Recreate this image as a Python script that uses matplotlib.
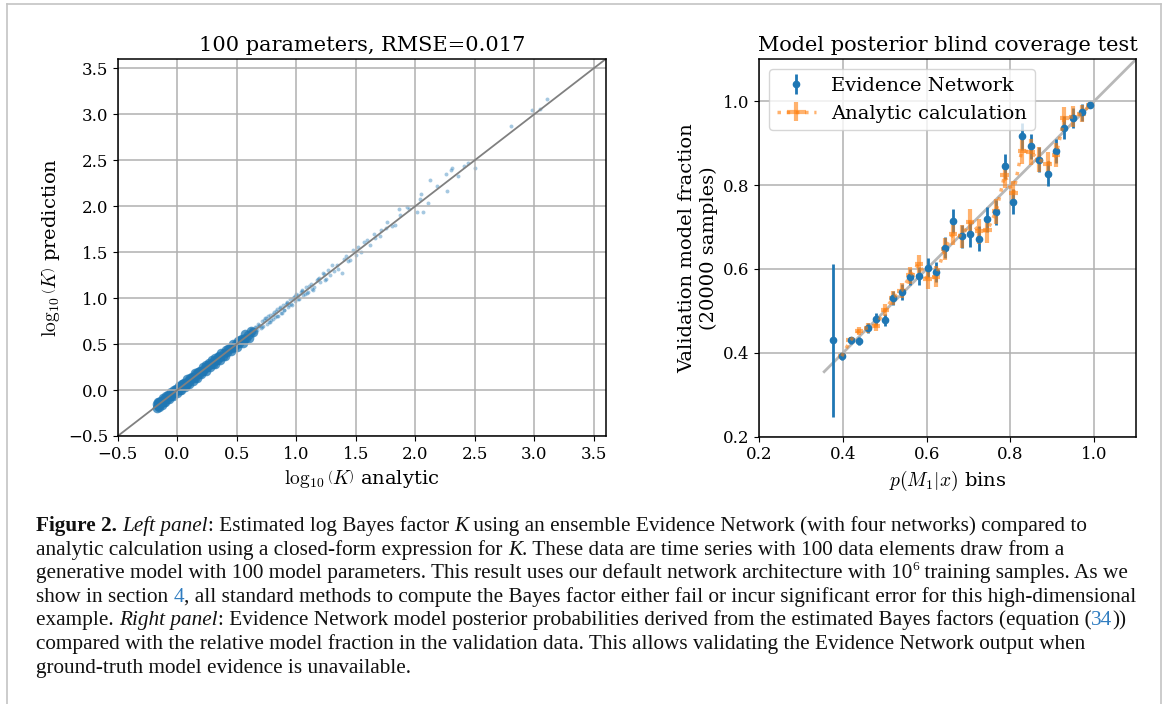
import matplotlib
matplotlib.use("Agg")
import matplotlib.pyplot as plt
from matplotlib.lines import Line2D

plt.rcParams['font.family'] = 'DejaVu Serif'
plt.rcParams['mathtext.fontset'] = 'cm'
plt.rcParams['font.size'] = 12

# ---------------- data: left panel ----------------
dense_x = [-0.170, -0.170, -0.165, -0.160, -0.160, -0.155, -0.150, -0.150, -0.145, -0.140,
           -0.135, -0.130, -0.125, -0.120, -0.115, -0.110, -0.100, -0.095, -0.090, -0.080,
           -0.075, -0.070, -0.060, -0.055, -0.050, -0.040, -0.035, -0.030, -0.020, -0.015,
           -0.010, 0.000, 0.005, 0.010, 0.020, 0.025, 0.030, 0.040, 0.045, 0.050,
           0.060, 0.065, 0.070, 0.080, 0.085, 0.090, 0.100, 0.105, 0.110, 0.120,
           0.125, 0.130, 0.140, 0.145, 0.150, 0.160, 0.165, 0.170, 0.180, 0.185,
           0.190, 0.200, 0.210, 0.215, 0.220, 0.230, 0.240, 0.245, 0.250, 0.260,
           0.270, 0.275, 0.280, 0.290, 0.300, 0.310, 0.315, 0.320, 0.330, 0.340,
           0.350, 0.355, 0.360, 0.370, 0.380, 0.390, 0.400, 0.410, 0.420, 0.430,
           0.440, 0.450, 0.460, 0.470, 0.480, 0.490, 0.500, 0.510, 0.520, 0.530,
           0.540, 0.550, 0.560, 0.570, 0.580, 0.590, 0.600, 0.620, 0.640]
dense_y = [-0.150, -0.200, -0.165, -0.125, -0.175, -0.145, -0.185, -0.125, -0.150, -0.125,
           -0.115, -0.160, -0.125, -0.085, -0.130, -0.100, -0.135, -0.070, -0.095, -0.065,
           -0.055, -0.100, -0.060, -0.020, -0.065, -0.030, -0.070, -0.005, -0.025, 0.000,
           0.010, -0.030, 0.005, 0.045, 0.005, 0.035, -0.005, 0.065, 0.040, 0.065,
           0.080, 0.035, 0.070, 0.115, 0.070, 0.100, 0.065, 0.130, 0.105, 0.135,
           0.145, 0.100, 0.140, 0.180, 0.135, 0.170, 0.130, 0.195, 0.175, 0.200,
           0.210, 0.170, 0.210, 0.250, 0.205, 0.240, 0.205, 0.270, 0.245, 0.275,
           0.290, 0.245, 0.280, 0.325, 0.285, 0.320, 0.280, 0.345, 0.325, 0.355,
           0.370, 0.325, 0.360, 0.405, 0.365, 0.400, 0.365, 0.435, 0.415, 0.445,
           0.460, 0.420, 0.460, 0.505, 0.465, 0.500, 0.465, 0.535, 0.515, 0.545,
           0.560, 0.510, 0.560, 0.605, 0.565, 0.600, 0.565, 0.645, 0.635]

sparse_x = [0.62, 0.64, 0.66, 0.67, 0.68, 0.70, 0.71, 0.72, 0.73, 0.75,
            0.76, 0.77, 0.78, 0.80, 0.81, 0.82, 0.84, 0.85, 0.86, 0.88,
            0.89, 0.90, 0.92, 0.93, 0.95, 0.96, 0.98, 0.99, 1.00, 1.02,
            1.04, 1.06, 1.08, 1.10, 1.12, 1.15, 1.17, 1.20, 1.22, 1.25,
            1.27, 1.30, 1.32, 1.34, 1.38, 1.40, 1.42, 1.45, 1.48, 1.50,
            1.52, 1.54, 1.59, 1.62, 1.65, 1.66, 1.70, 1.75, 1.76, 1.80,
            1.86, 1.87, 1.93, 2.01, 2.05, 2.06, 2.11, 2.12, 2.26, 2.27,
            2.30, 2.31, 2.41, 2.50, 2.80, 2.98, 3.05, 3.11,
            0.63, 0.65, 0.69, 0.74, 0.79, 0.83, 0.87, 0.91, 0.94, 0.97,
            1.01, 1.05, 1.09, 1.13, 1.18, 1.23, 1.28, 1.35, 1.43, 1.57,
            0.61, 0.655, 0.685, 0.715, 0.745, 0.775, 0.805, 0.835, 0.865, 0.895,
            0.925, 0.955, 0.985, 1.015, 1.045, 1.075, 1.105, 1.14, 1.19, 1.24,
            1.71, 1.83, 1.95, 2.04, 2.18, 2.36, 2.44]
sparse_y = [0.66, 0.60, 0.69, 0.65, 0.72, 0.67, 0.75, 0.70, 0.76, 0.72,
            0.80, 0.74, 0.82, 0.77, 0.85, 0.79, 0.88, 0.81, 0.90, 0.84,
            0.93, 0.87, 0.95, 0.90, 0.99, 0.93, 1.01, 0.97, 1.04, 0.99,
            1.07, 1.03, 1.12, 1.07, 1.15, 1.12, 1.20, 1.17, 1.27, 1.21,
            1.30, 1.36, 1.29, 1.36, 1.27, 1.43, 1.46, 1.41, 1.52, 1.47,
            1.56, 1.50, 1.63, 1.58, 1.70, 1.65, 1.68, 1.76, 1.83, 1.78,
            1.97, 1.90, 1.99, 1.94, 2.13, 1.94, 2.03, 2.28, 2.35, 2.16,
            2.39, 2.42, 2.44, 2.41, 2.87, 3.04, 3.06, 3.17,
            0.61, 0.68, 0.71, 0.78, 0.76, 0.86, 0.84, 0.94, 0.92, 1.00,
            1.03, 1.09, 1.06, 1.10, 1.21, 1.26, 1.25, 1.32, 1.40, 1.61,
            0.64, 0.63, 0.70, 0.69, 0.78, 0.74, 0.83, 0.81, 0.89, 0.87,
            0.96, 0.94, 1.02, 0.99, 1.08, 1.04, 1.13, 1.09, 1.22, 1.20,
            1.74, 1.80, 1.97, 2.08, 2.22, 2.33, 2.47]

left_diag = [-0.5, 3.6]
left_ticks = [-0.5, 0.0, 0.5, 1.0, 1.5, 2.0, 2.5, 3.0, 3.5]

# ---------------- data: right panel ----------------
net_x = [0.376, 0.397, 0.418, 0.438, 0.459, 0.479, 0.500, 0.520, 0.540, 0.561,
         0.581, 0.602, 0.622, 0.643, 0.663, 0.684, 0.704, 0.725, 0.745, 0.766,
         0.786, 0.807, 0.827, 0.848, 0.868, 0.889, 0.909, 0.929, 0.950, 0.970, 0.990]
net_y = [0.430, 0.392, 0.430, 0.428, 0.460, 0.480, 0.478, 0.531, 0.545, 0.581,
         0.583, 0.603, 0.593, 0.651, 0.714, 0.678, 0.683, 0.672, 0.718, 0.735,
         0.845, 0.760, 0.916, 0.893, 0.861, 0.827, 0.881, 0.937, 0.960, 0.974, 0.991]
net_err = [0.183, 0.008, 0.008, 0.010, 0.012, 0.014, 0.015, 0.017, 0.018, 0.020,
           0.022, 0.022, 0.024, 0.026, 0.028, 0.028, 0.030, 0.030, 0.030, 0.030,
           0.030, 0.030, 0.032, 0.030, 0.030, 0.030, 0.028, 0.027, 0.025, 0.020, 0.008]

ana_x = [0.397, 0.418, 0.438, 0.459, 0.479, 0.500, 0.520, 0.540, 0.561,
         0.581, 0.602, 0.622, 0.643, 0.663, 0.684, 0.704, 0.725, 0.745, 0.766,
         0.786, 0.807, 0.827, 0.848, 0.868, 0.889, 0.909, 0.929, 0.950, 0.970, 0.990]
ana_y = [0.392, 0.430, 0.452, 0.460, 0.465, 0.502, 0.531, 0.548, 0.585,
         0.612, 0.575, 0.582, 0.648, 0.684, 0.678, 0.712, 0.690, 0.692, 0.738,
         0.823, 0.780, 0.882, 0.879, 0.861, 0.850, 0.872, 0.960, 0.963, 0.970, 0.991]
ana_err = [0.008, 0.008, 0.010, 0.012, 0.014, 0.015, 0.017, 0.018, 0.020,
           0.022, 0.022, 0.024, 0.026, 0.028, 0.028, 0.030, 0.030, 0.030, 0.030,
           0.030, 0.030, 0.032, 0.030, 0.030, 0.030, 0.028, 0.027, 0.025, 0.020, 0.008]
ana_xerr = 0.010

right_diag = [0.355, 1.1]
right_ticks = [0.2, 0.4, 0.6, 0.8, 1.0]

left_title = '100 parameters, RMSE=0.017'
right_title = 'Model posterior blind coverage test'

caption = [
    [('b', 'Figure 2.'), ('r', ' '), ('i', 'Left panel'), ('r', ': Estimated log Bayes factor '), ('i', 'K'),
     ('r', ' using an ensemble Evidence Network (with four networks) compared to')],
    [('r', 'analytic calculation using a closed-form expression for '), ('i', 'K'),
     ('r', '. These data are time series with 100 data elements draw from a')],
    [('r', 'generative model with 100 model parameters. This result uses our default network architecture with 10'),
     ('s', '6'), ('r', ' training samples. As we')],
    [('r', 'show in section '), ('l', '4'),
     ('r', ', all standard methods to compute the Bayes factor either fail or incur significant error for this high-dimensional')],
    [('r', 'example. '), ('i', 'Right panel'),
     ('r', ': Evidence Network model posterior probabilities derived from the estimated Bayes factors (equation ('),
     ('l', '34'), ('r', '))')],
    [('r', 'compared with the relative model fraction in the validation data. This allows validating the Evidence Network output when')],
    [('r', 'ground-truth model evidence is unavailable.')],
]

# ---------------- figure ----------------
W, H = 1167, 704
fig = plt.figure(figsize=(W / 100, H / 100), dpi=100)


def rect(l, t, r, b):
    return [l / W, 1 - b / H, (r - l) / W, (b - t) / H]


ax1 = fig.add_axes(rect(117.8, 59, 605.8, 436))
ax2 = fig.add_axes(rect(759.3, 59.3, 1136, 436.7))

grid_kw = dict(color='#b0b0b0', lw=1.1)
label_fs = 14
title_fs = 15

# left panel
ax1.scatter(dense_x, dense_y, s=48, color='#1f77b4', alpha=0.75, lw=0)
ax1.scatter(sparse_x, sparse_y, s=8, color='#1f77b4', alpha=0.4, lw=0)
ax1.plot(left_diag, left_diag, color='#808080', lw=1.3)
ax1.set_xlim(-0.5, 3.6)
ax1.set_ylim(-0.5, 3.6)
ax1.set_xticks(left_ticks)
ax1.set_yticks(left_ticks)
ax1.grid(True, **grid_kw)
ax1.set_title(left_title, fontsize=title_fs)
ax1.set_xlabel(r'$\log_{10}\left(K\right)$ analytic', fontsize=label_fs)
ax1.set_ylabel(r'$\log_{10}\left(K\right)$ prediction', fontsize=label_fs)

# right panel
ax2.plot(right_diag, right_diag, color='#b8b8b8', lw=2.0)
ax2.errorbar(net_x, net_y, yerr=net_err, fmt='o', color='#1f77b4', ms=4.5,
             elinewidth=2.0, label='Evidence Network')
ax2.errorbar(ana_x, ana_y, yerr=ana_err, xerr=ana_xerr, fmt=':', color='#ff7f0e',
             alpha=0.6, lw=2.5, elinewidth=3.0, label='Analytic calculation')
ax2.set_xlim(0.2, 1.1)
ax2.set_ylim(0.2, 1.1)
ax2.set_xticks(right_ticks)
ax2.set_yticks(right_ticks)
ax2.grid(True, **grid_kw)
ax2.set_title(right_title, fontsize=title_fs)
ax2.set_xlabel(r'$p(M_1|x)$ bins', fontsize=label_fs)
ax2.set_ylabel('Validation model fraction\n(20000 samples)', fontsize=label_fs)
ax2.legend(loc='upper left', fontsize=14, handlelength=2.0)

for ax in (ax1, ax2):
    ax.tick_params(labelsize=12)
    for s in ax.spines.values():
        s.set_linewidth(1.1)

# page border
bc = '#c4c4c4'
fig.add_artist(Line2D([7 / W, 7 / W], [0, 1 - 4 / H], color=bc, lw=1.2))
fig.add_artist(Line2D([7 / W, 1161 / W], [1 - 4 / H, 1 - 4 / H], color=bc, lw=1.2))
fig.add_artist(Line2D([1161 / W, 1161 / W], [0, 1 - 4 / H], color=bc, lw=1.2))

# caption with rich text
renderer = fig.canvas.get_renderer()
cap_family = 'Liberation Serif'
cap_size = 15.3
styles = {
    'r': dict(family=cap_family, size=cap_size, color='#111111'),
    'b': dict(family=cap_family, size=cap_size, color='#111111', weight='bold'),
    'i': dict(family=cap_family, size=cap_size, color='#111111', style='italic'),
    'l': dict(family=cap_family, size=cap_size, color='#2f7cc0'),
    's': dict(family=cap_family, size=cap_size * 0.62, color='#111111'),
}


def seg_width(txt, props):
    t1 = fig.text(0, 0, '|' + txt + '|', **props)
    w1 = t1.get_window_extent(renderer).width
    t1.remove()
    t2 = fig.text(0, 0, '||', **props)
    w2 = t2.get_window_extent(renderer).width
    t2.remove()
    return w1 - w2


x0, y0, dy = 36.0, 531.0, 23.6
for i, line in enumerate(caption):
    x = x0
    yb = y0 + i * dy
    for st, txt in line:
        props = styles[st]
        yy = yb - (8 if st == 's' else 0)
        fig.text(x / W, 1 - yy / H, txt, va='baseline', ha='left', **props)
        x += seg_width(txt, props)

fig.savefig('out.png', dpi=100)
